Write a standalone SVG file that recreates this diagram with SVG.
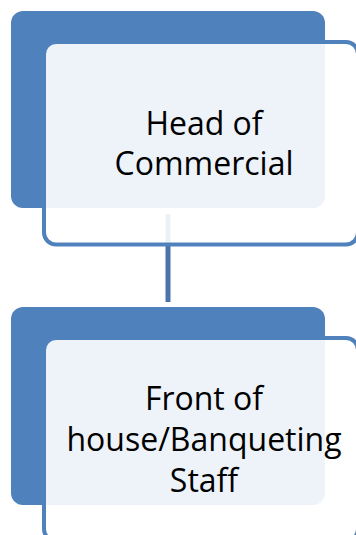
<svg xmlns="http://www.w3.org/2000/svg" width="356" height="535" viewBox="0 0 356 535">
<style>
.back{fill:#4F81BD;}
.front{fill:#FFFFFF;fill-opacity:0.9;stroke:#4F81BD;stroke-width:4;}
.conn{stroke:#4A74AB;stroke-width:5;fill:none;}
.lbl{font-family:"Open Sans","Liberation Sans",sans-serif;font-size:32px;fill:#000000;text-anchor:middle;}
</style>
<rect width="356" height="535" fill="#FFFFFF"/>
<g id="connectors">
<line class="conn" x1="168" y1="214" x2="168" y2="302"/>
</g>
<g id="node-head">
<rect class="back" x="11" y="11" width="314" height="197" rx="12"/>
<rect class="front" x="44" y="42" width="314" height="202.5" rx="12"/>
<text class="lbl" x="204" y="134.5">Head of</text>
<text class="lbl" x="204" y="175">Commercial</text>
</g>
<g id="node-staff">
<rect class="back" x="11" y="307" width="314" height="198" rx="12"/>
<rect class="front" x="44" y="338" width="314" height="203" rx="12"/>
<text class="lbl" x="204" y="409.5">Front of</text>
<text class="lbl" x="204" y="450.5">house/Banqueting</text>
<text class="lbl" x="204" y="491.5">Staff</text>
</g>
</svg>
